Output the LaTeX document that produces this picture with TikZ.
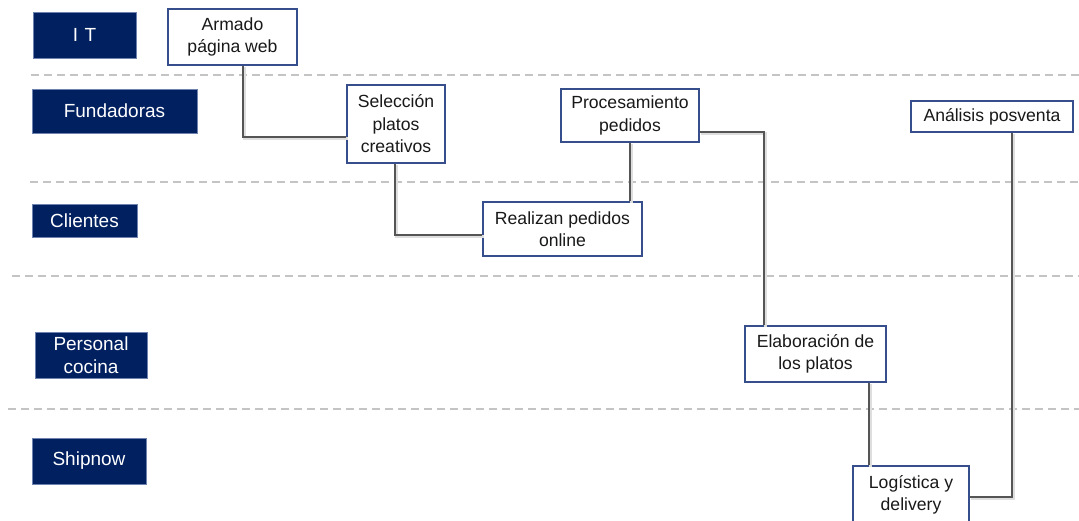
\documentclass[tikz,border=0pt]{standalone}
\usepackage{fontspec}
\setmainfont{Liberation Sans}
\definecolor{navy}{RGB}{0,32,96}
\definecolor{navyedge}{RGB}{110,130,175}
\definecolor{taskedge}{RGB}{55,78,140}
\definecolor{linkgray}{RGB}{85,85,85}
\definecolor{shadowgray}{RGB}{222,222,222}
\definecolor{lanegray}{RGB}{196,196,196}
\definecolor{inkblack}{RGB}{25,25,25}
\begin{document}
\begin{tikzpicture}[x=1pt,y=-1pt,
  lanebox/.style={draw=navyedge, line width=0.6pt, fill=navy, text=white,
    inner sep=0pt, align=center, font=\fontsize{19}{23.5}\selectfont},
  taskbox/.style={draw=taskedge, line width=1.1pt, fill=white, text=inkblack,
    inner sep=0pt, align=center, font=\fontsize{17.6}{22.5}\selectfont},
  lanesep/.style={draw=lanegray, line width=1.4pt, dash pattern=on 8pt off 5pt},
  link/.style={draw=linkgray, line width=2.9pt},
  linkshadow/.style={draw=shadowgray, line width=2.9pt, transform canvas={shift={(1.3pt,-1.5pt)}}}
]
\clip (0,0) rectangle (1079,520);
\fill[white] (0,0) rectangle (1079,520);

% lane separators
\draw[lanesep] (31,75) -- (1079,75);
\draw[lanesep] (30,182) -- (1079,182);
\draw[lanesep] (12,276) -- (1079,276);
\draw[lanesep] (8,409) -- (1079,409);

% lane labels
\node[lanebox, minimum width=103pt, minimum height=46pt] (it) at (84.5,35) {I\,\,T};
\node[lanebox, minimum width=165pt, minimum height=44pt] (fund) at (114.5,111) {Fundadoras};
\node[lanebox, minimum width=105pt, minimum height=33pt] (cli) at (84.5,220.5) {Clientes};
\node[lanebox, minimum width=112pt, minimum height=46pt] (coc) at (91,355) {Personal\\cocina};
\node[lanebox, minimum width=114pt, minimum height=46pt] (ship) at (89,461) {Shipnow};

% activities
\node[taskbox, minimum width=129pt, minimum height=56pt] (armado) at (232.5,37) {Armado\\página web};
\node[taskbox, minimum width=98pt, minimum height=78pt] (seleccion) at (396,124) {Selección\\platos\\creativos};
\node[taskbox, minimum width=138pt, minimum height=53pt] (proces) at (630,115.5) {Procesamiento\\pedidos};
\node[taskbox, minimum width=159pt, minimum height=54pt] (realizan) at (562.5,229) {Realizan pedidos\\online};
\node[taskbox, minimum width=162pt, minimum height=31pt] (analisis) at (992,116.5) {Análisis posventa};
\node[taskbox, minimum width=141pt, minimum height=56pt] (elab) at (815.5,354) {Elaboración de\\los platos};
\node[taskbox, minimum width=116pt, minimum height=58pt] (logis) at (911,495) {Logística y\\delivery};

% connectors: soft shadow first, then the line itself
\foreach \st in {linkshadow, link}{
  \draw[\st] ([xshift=10.5pt]armado.south) |- ([yshift=-13pt]seleccion.west);
  \draw[\st] ([xshift=-1pt]seleccion.south) |- ([yshift=-6pt]realizan.west);
  \draw[\st] (proces.south) -- (proces.south |- realizan.north);
  \draw[\st] ([yshift=-16.5pt]proces.east) -| ([xshift=-51.5pt]elab.north);
  \draw[\st] ([xshift=53.5pt]elab.south) -- ([xshift=53.5pt]elab.south |- logis.north);
  \draw[\st] ([yshift=-2pt]logis.east) -| ([xshift=20pt]analisis.south);
}
\end{tikzpicture}
\end{document}
